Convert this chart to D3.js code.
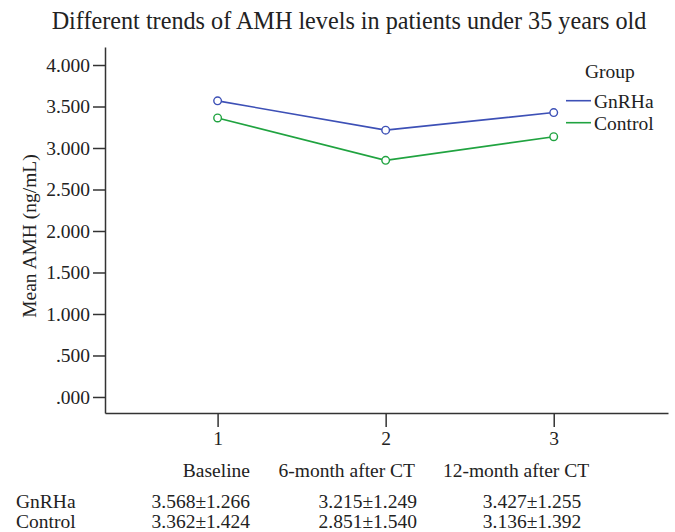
<!DOCTYPE html>
<html>
<head>
<meta charset="utf-8">
<script src="https://cdn.jsdelivr.net/npm/d3@7"></script>
<style>
  body { margin: 0; background: #fff; }
  text { font-family: "Liberation Serif", "Times New Roman", serif; fill: #222; }
</style>
</head>
<body>
<svg width="675" height="532"></svg>
<script>
// chart data
const timepoints = [1, 2, 3];
const timeLabels = ["Baseline", "6-month after CT", "12-month after CT"];
const groups = ["GnRHa", "Control"];
const gnrhaMean = [3.568, 3.215, 3.427];
const controlMean = [3.362, 2.851, 3.136];
const gnrhaText = ["3.568\u00b11.266", "3.215\u00b11.249", "3.427\u00b11.255"];
const controlText = ["3.362\u00b11.424", "2.851\u00b11.540", "3.136\u00b11.392"];
const yTicks = [0, 0.5, 1, 1.5, 2, 2.5, 3, 3.5, 4];

const colors = {GnRHa: "#3d50b6", Control: "#20a340"};

const svg = d3.select("svg");

const x = d3.scaleLinear().domain([0.33, 3.68]).range([105, 668]);
const y = d3.scaleLinear().domain([-0.193, 4.217]).range([413, 47]);

// title
svg.append("text")
    .attr("x", 349).attr("y", 29)
    .attr("text-anchor", "middle")
    .style("font-size", "24.2px")
    .text("Different trends of AMH levels in patients under 35 years old");

// y axis
const fmt = d => d3.format(".3f")(d).replace(/^0\./, ".");
const yAxis = svg.append("g")
    .attr("transform", "translate(105,0)")
    .call(d3.axisLeft(y).tickValues(yTicks).tickFormat(fmt).tickSize(12).tickSizeOuter(0).tickPadding(3));

// x axis
const xAxis = svg.append("g")
    .attr("transform", "translate(0,413)")
    .call(d3.axisBottom(x).tickValues(timepoints).tickFormat(d3.format("d")).tickSize(14).tickSizeOuter(0).tickPadding(4));

[yAxis, xAxis].forEach(g => {
    g.select(".domain").attr("stroke", "#333").attr("stroke-width", 1.5);
    g.selectAll(".tick line").attr("stroke", "#333").attr("stroke-width", 1.5);
    g.selectAll(".tick text")
        .style("font-family", "'Liberation Serif', 'Times New Roman', serif")
        .style("font-size", "19.5px").attr("fill", "#222");
});

// y axis title
svg.append("text")
    .attr("transform", "translate(36,236) rotate(-90)")
    .attr("text-anchor", "middle")
    .style("font-size", "19.5px")
    .text("Mean AMH (ng/mL)");

// lines + markers
const series = [
    {name: "GnRHa", values: gnrhaMean},
    {name: "Control", values: controlMean}
];
const line = d3.line()
    .x((d, i) => x(timepoints[i]))
    .y(d => y(d));

series.forEach(s => {
    svg.append("path")
        .datum(s.values)
        .attr("d", line)
        .attr("fill", "none")
        .attr("stroke", colors[s.name])
        .attr("stroke-width", 1.6);
    svg.selectAll(".pt-" + s.name)
        .data(s.values)
        .enter().append("circle")
        .attr("class", "pt-" + s.name)
        .attr("cx", (d, i) => x(timepoints[i]))
        .attr("cy", d => y(d))
        .attr("r", 3.8)
        .attr("fill", "#fff")
        .attr("stroke", colors[s.name])
        .attr("stroke-width", 1.4);
});

// legend
const legend = svg.append("g").attr("transform", "translate(566,0)");
legend.append("text")
    .attr("x", 19).attr("y", 78)
    .style("font-size", "19.5px")
    .text("Group");
groups.forEach((g, i) => {
    const ly = 100.7 + i * 22;
    legend.append("line")
        .attr("x1", 0).attr("x2", 25)
        .attr("y1", ly).attr("y2", ly)
        .attr("stroke", colors[g]).attr("stroke-width", 1.6);
    legend.append("text")
        .attr("x", 28).attr("y", ly + 7)
        .style("font-size", "19.5px")
        .text(g);
});

// time labels and summary table under the chart
const labelAnchor = [{x: 250, a: "end"}, {x: 415, a: "end"}, {x: 516, a: "middle"}];
const valueAnchor = [{x: 250, a: "end"}, {x: 417, a: "end"}, {x: 532, a: "middle"}];

svg.selectAll(".tlabel")
    .data(timeLabels)
    .enter().append("text")
    .attr("class", "tlabel")
    .attr("x", (d, i) => labelAnchor[i].x)
    .attr("y", 477)
    .attr("text-anchor", (d, i) => labelAnchor[i].a)
    .style("font-size", "19.5px")
    .text(d => d);

[gnrhaText, controlText].forEach((row, r) => {
    const ry = 508 + r * 20;
    svg.append("text")
        .attr("x", 16).attr("y", ry)
        .style("font-size", "19.5px")
        .text(groups[r]);
    svg.selectAll(".row" + r)
        .data(row)
        .enter().append("text")
        .attr("class", "row" + r)
        .attr("x", (d, i) => valueAnchor[i].x)
        .attr("y", ry)
        .attr("text-anchor", (d, i) => valueAnchor[i].a)
        .style("font-size", "19.5px")
        .text(d => d);
});
</script>
</body>
</html>
